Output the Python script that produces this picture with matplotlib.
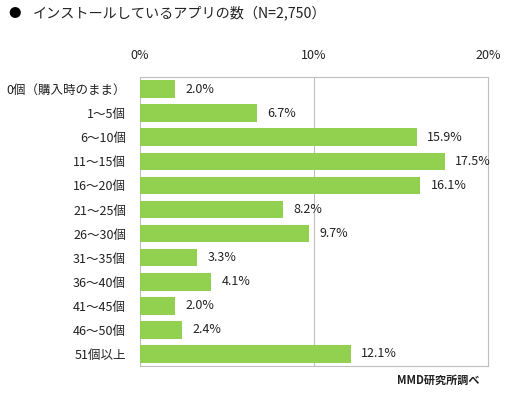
import matplotlib
matplotlib.use('Agg')
import matplotlib.pyplot as plt

plt.rcParams['font.family'] = ['Noto Sans CJK JP', 'DejaVu Sans']

# アプリ数の区分と割合(%)
categories = ['0個（購入時のまま）', '1～5個', '6～10個', '11～15個', '16～20個',
              '21～25個', '26～30個', '31～35個', '36～40個', '41～45個',
              '46～50個', '51個以上']
shares = [2.0, 6.7, 15.9, 17.5, 16.1, 8.2, 9.7, 3.3, 4.1, 2.0, 2.4, 12.1]
xticks = [0, 10, 20]
xtick_labels = ['0%', '10%', '20%']

fig = plt.figure(figsize=(5.18, 3.95), dpi=100)
ax = fig.add_axes([0.2703, 0.0734, 0.6718, 0.7316])

ypos = list(range(len(categories)))
ax.barh(ypos, shares, height=0.73, color='#92D050', zorder=3)
ax.set_ylim(len(categories) - 0.5, -0.5)
ax.set_xlim(0, 20)

for y, v in zip(ypos, shares):
    ax.text(v + 0.6, y, f'{v:.1f}%', va='center', ha='left', fontsize=9, color='#222222')

ax.xaxis.tick_top()
ax.set_xticks(xticks)
ax.set_xticklabels(xtick_labels, fontsize=9, color='#222222')
ax.tick_params(axis='x', length=0, pad=11)
ax.set_yticks(ypos)
ax.set_yticklabels(categories, fontsize=9, color='#222222')
ax.tick_params(axis='y', length=0, pad=10)

ax.axvline(10, color='#BFBFBF', linewidth=0.8, zorder=1)
for s in ax.spines.values():
    s.set_color('#BFBFBF')
    s.set_linewidth(0.8)

fig.text(8 / 518, 1 - 13 / 395, '●', fontsize=9, va='center', ha='left')
fig.text(33 / 518, 1 - 13 / 395, 'インストールしているアプリの数（N=2,750）',
         fontsize=10.2, va='center', ha='left', color='#222222')
fig.text(479 / 518, 1 - 380 / 395, 'MMD研究所調べ', fontsize=8,
         fontweight='bold', va='center', ha='right', color='#222222')

fig.savefig('out.png', dpi=100)
